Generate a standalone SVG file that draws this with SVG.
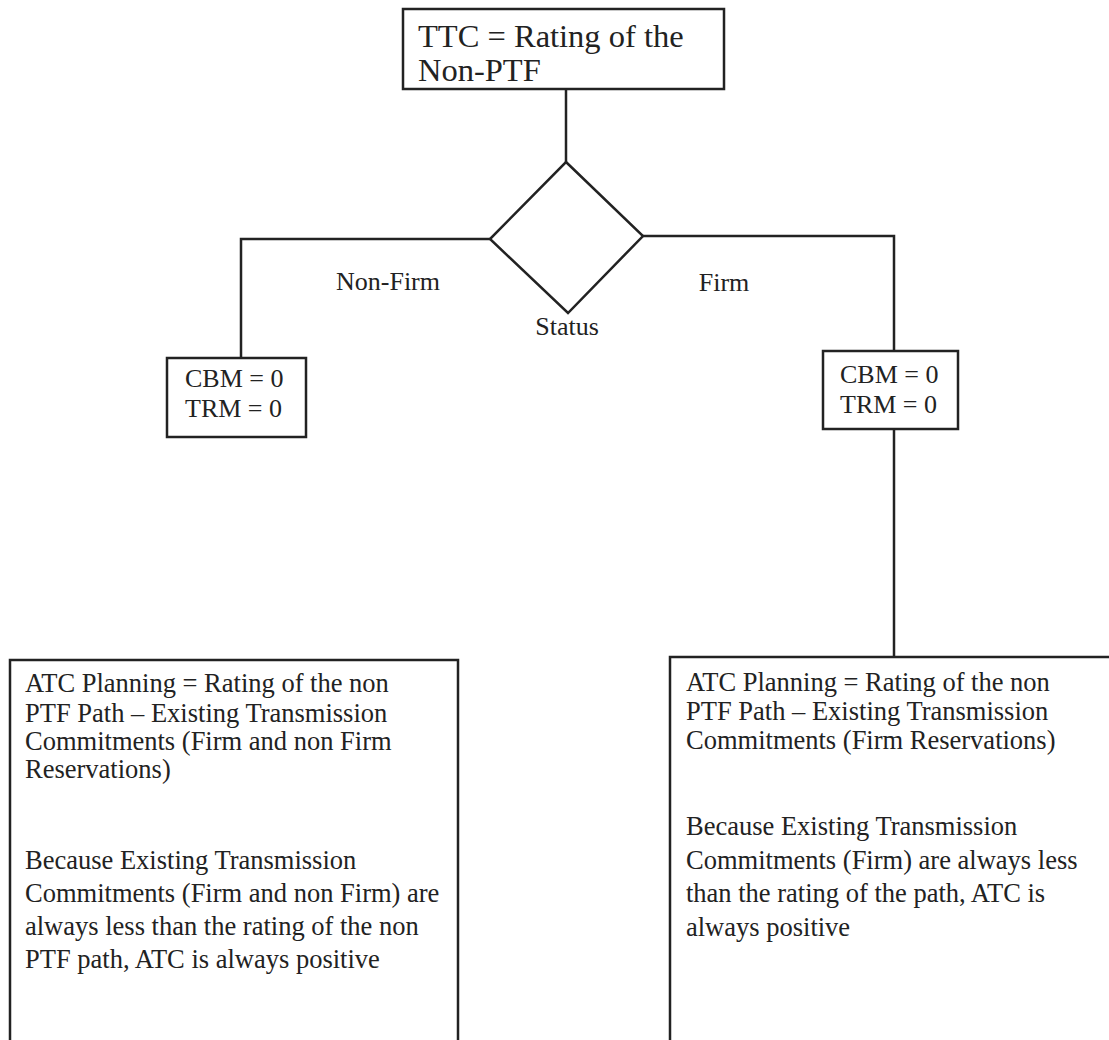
<svg xmlns="http://www.w3.org/2000/svg" width="1109" height="1040" viewBox="0 0 1109 1040">
<style>
.box{fill:#fff;stroke:#222;stroke-width:2.5}
.ln{fill:none;stroke:#222;stroke-width:2.5}
text{font-family:"Liberation Serif","Times New Roman",serif;fill:#222;font-size:26px}
.body{font-size:26.5px}
.big{font-size:32.5px}
</style>
<rect width="1109" height="1040" fill="#fff"/>
<g id="connectors">
<line class="ln" x1="566" y1="89" x2="566" y2="162"/>
<polyline class="ln" points="490,239 241,239 241,358"/>
<polyline class="ln" points="643,236 894,236 894,351"/>
<line class="ln" x1="894" y1="429" x2="894" y2="657"/>
</g>
<g id="ttc">
<rect class="box" x="403" y="9" width="321" height="80"/>
<text class="big" x="418" y="47">TTC = Rating of the</text>
<text class="big" x="418" y="81">Non-PTF</text>
</g>
<g id="status">
<polygon class="box" points="566,162 643,236 568,313 490,239"/>
<text x="567" y="335" text-anchor="middle">Status</text>
</g>
<g id="label-nonfirm"><text x="388" y="290" text-anchor="middle">Non-Firm</text></g>
<g id="label-firm"><text x="724" y="291" text-anchor="middle">Firm</text></g>
<g id="cbm-left">
<rect class="box" x="167" y="358" width="139" height="79"/>
<text x="185" y="387">CBM = 0</text>
<text x="185" y="417">TRM = 0</text>
</g>
<g id="cbm-right">
<rect class="box" x="823" y="351" width="135" height="78"/>
<text x="840" y="383">CBM = 0</text>
<text x="840" y="413">TRM = 0</text>
</g>
<g id="atc-left">
<rect class="box" x="10" y="660" width="448" height="400"/>
<text class="body" x="25" y="692">ATC Planning = Rating of the non</text>
<text class="body" x="25" y="722">PTF Path – Existing Transmission</text>
<text class="body" x="25" y="750">Commitments (Firm and non Firm</text>
<text class="body" x="25" y="778">Reservations)</text>
<text class="body" x="25" y="869">Because Existing Transmission</text>
<text class="body" x="25" y="902">Commitments (Firm and non Firm) are</text>
<text class="body" x="25" y="935">always less than the rating of the non</text>
<text class="body" x="25" y="968">PTF path, ATC is always positive</text>
</g>
<g id="atc-right">
<rect class="box" x="670" y="657" width="460" height="400"/>
<text class="body" x="686" y="691">ATC Planning = Rating of the non</text>
<text class="body" x="686" y="720">PTF Path – Existing Transmission</text>
<text class="body" x="686" y="749">Commitments (Firm Reservations)</text>
<text class="body" x="686" y="835">Because Existing Transmission</text>
<text class="body" x="686" y="869">Commitments (Firm) are always less</text>
<text class="body" x="686" y="902">than the rating of the path, ATC is</text>
<text class="body" x="686" y="936">always positive</text>
</g>
</svg>
